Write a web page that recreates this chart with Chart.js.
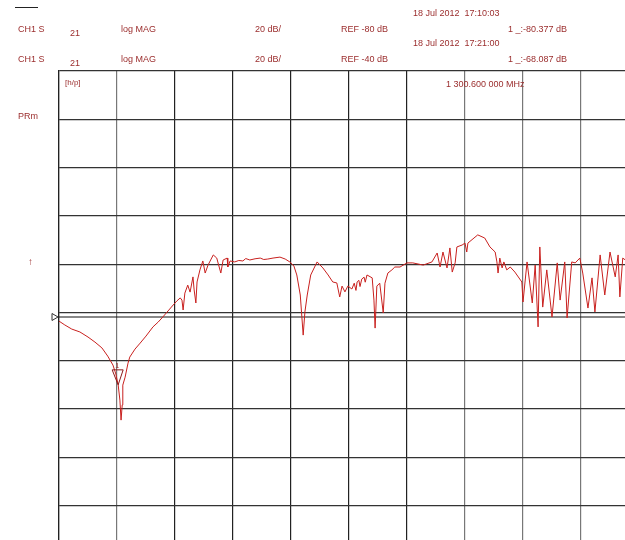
<!DOCTYPE html>
<html>
<head>
<meta charset="utf-8">
<script src="https://cdn.jsdelivr.net/npm/chart.js@4.4.1/dist/chart.umd.min.js"></script>
<style>
  html, body { margin: 0; padding: 0; background: #fff; }
  body { width: 625px; height: 540px; overflow: hidden; position: relative; font-family: "Liberation Sans", Arial, sans-serif; }
  #wrap { position: absolute; left: 0; top: 0; width: 660px; height: 580px; }
  .t { position: absolute; font-size: 9px; color: #9b2d2d; white-space: pre; line-height: 1; }
</style>
</head>
<body>
<div id="wrap"><canvas id="trace" width="660" height="580"></canvas></div>

<div style="position:absolute;left:15px;top:7px;width:23px;height:1px;background:#222"></div>
<div class="t" style="left:18px;top:25px">CH1 S</div>
<div class="t" style="left:70px;top:29px">21</div>
<div class="t" style="left:121px;top:25px">log MAG</div>
<div class="t" style="left:255px;top:25px">20 dB/</div>
<div class="t" style="left:341px;top:25px">REF -80 dB</div>
<div class="t" style="left:413px;top:9px">18 Jul 2012  17:10:03</div>
<div class="t" style="left:508px;top:25px">1 _:-80.377 dB</div>

<div class="t" style="left:18px;top:55px">CH1 S</div>
<div class="t" style="left:70px;top:59px">21</div>
<div class="t" style="left:121px;top:55px">log MAG</div>
<div class="t" style="left:255px;top:55px">20 dB/</div>
<div class="t" style="left:341px;top:55px">REF -40 dB</div>
<div class="t" style="left:413px;top:39px">18 Jul 2012  17:21:00</div>
<div class="t" style="left:508px;top:55px">1 _:-68.087 dB</div>

<div class="t" style="left:65px;top:79px;font-size:8px">[h/p]</div>
<div class="t" style="left:446px;top:80px">1 300.600 000 MHz</div>
<div class="t" style="left:18px;top:112px">PRm</div>
<div class="t" style="left:28px;top:257px;font-size:10px">↑</div>

<script>
// trace S21, x in screen divisions (0..10), y in dB
const freqDiv = [
  0.00, 0.10, 0.22, 0.36, 0.50, 0.62, 0.74, 0.84, 0.93, 0.98,
  1.02, 1.05, 1.07, 1.09, 1.10, 1.14, 1.19, 1.22, 1.31, 1.40,
  1.50, 1.62, 1.71, 1.79, 1.88, 1.97, 2.03, 2.09, 2.12, 2.14,
  2.17, 2.22, 2.26, 2.31, 2.33, 2.36, 2.38, 2.43, 2.48, 2.52,
  2.57, 2.66, 2.72, 2.79, 2.83, 2.90, 2.91, 2.95, 3.03, 3.10,
  3.17, 3.22, 3.29, 3.38, 3.47, 3.53, 3.60, 3.69, 3.81, 3.90,
  3.98, 4.05, 4.10, 4.16, 4.21, 4.24, 4.28, 4.34, 4.45, 4.55,
  4.64, 4.72, 4.79, 4.84, 4.88, 4.93, 4.98, 5.05, 5.09, 5.12,
  5.14, 5.17, 5.19, 5.22, 5.26, 5.28, 5.31, 5.40, 5.43, 5.45,
  5.48, 5.53, 5.59, 5.62, 5.67, 5.74, 5.79, 5.88, 6.00, 6.10,
  6.28, 6.43, 6.52, 6.57, 6.62, 6.69, 6.74, 6.78, 6.83, 6.86,
  6.95, 7.00, 7.03, 7.05, 7.22, 7.34, 7.43, 7.52, 7.55, 7.57,
  7.60, 7.64, 7.67, 7.72, 7.78, 7.86, 7.98, 8.00, 8.07, 8.16,
  8.21, 8.26, 8.29, 8.34, 8.41, 8.50, 8.59, 8.64, 8.72, 8.76,
  8.84, 8.90, 8.98, 9.03, 9.12, 9.19, 9.24, 9.33, 9.41, 9.50,
  9.59, 9.64, 9.67, 9.72, 9.81, 9.91, 10.00
];
const s21 = [
  -41.7, -43.3, -45.0, -46.2, -48.3, -50.4, -52.8, -56.2, -59.9, -63.6,
  -68.1, -74.4, -82.7, -76.4, -68.2, -64.9, -59.1, -56.6, -53.3, -50.8,
  -47.9, -44.1, -42.1, -40.0, -37.5, -35.0, -33.4, -32.1, -33.0, -37.1,
  -30.1, -26.8, -29.7, -23.4, -28.8, -34.2, -25.5, -20.5, -16.8, -21.8,
  -18.5, -14.3, -15.6, -21.8, -16.4, -15.6, -19.3, -16.8, -17.2, -16.6,
  -16.8, -15.8, -16.4, -15.9, -15.6, -16.2, -16.0, -15.6, -15.2, -16.0,
  -17.2, -18.9, -22.6, -30.9, -47.5, -37.9, -30.9, -22.6, -17.2, -19.7,
  -22.6, -25.5, -25.9, -31.7, -27.2, -29.6, -27.2, -28.4, -26.0, -29.0,
  -25.5, -24.8, -27.4, -24.3, -23.5, -25.6, -22.6, -23.8, -33.0, -44.6,
  -27.2, -26.0, -38.3, -26.0, -21.8, -20.5, -19.3, -19.3, -17.6, -17.6,
  -18.5, -17.2, -13.5, -19.3, -13.1, -19.7, -11.4, -21.4, -17.6, -11.0,
  -10.2, -9.4, -13.1, -9.4, -6.0, -7.3, -11.0, -13.1, -17.2, -21.8,
  -15.6, -19.7, -17.2, -20.5, -19.3, -21.4, -25.5, -33.8, -17.2, -34.2,
  -18.5, -44.1, -11.0, -35.9, -20.5, -40.0, -17.6, -33.0, -17.2, -40.4,
  -17.2, -17.6, -15.6, -21.8, -36.3, -23.8, -37.9, -14.3, -30.9, -13.1,
  -23.4, -14.3, -31.7, -15.6, -17.2, -14.3, -16.4
];

const refLevel = -40;       // REF -40 dB
const dbPerDiv = 20;        // 20 dB/
const yTop = 61.86;         // top graticule line
const yBottom = yTop - 10 * dbPerDiv;
const marker = { x: 1.02, y: -68.1 };

const traceData = freqDiv.map((f, i) => ({ x: f, y: s21[i] }));
const refData = [{ x: 0, y: refLevel }, { x: 10, y: refLevel }];

// marker and reference symbols
const symbols = {
  id: "symbols",
  afterDatasetsDraw(chart) {
    const ctx = chart.ctx;
    const xs = chart.scales.x;
    const ys = chart.scales.y;
    ctx.save();
    // reference position triangle on the left
    const ry = ys.getPixelForValue(refLevel);
    const lx = xs.getPixelForValue(0);
    ctx.strokeStyle = "#333";
    ctx.lineWidth = 1;
    ctx.beginPath();
    ctx.moveTo(lx - 7, ry - 3.5);
    ctx.lineTo(lx - 1, ry);
    ctx.lineTo(lx - 7, ry + 3.5);
    ctx.closePath();
    ctx.stroke();
    // marker 1
    const mx = xs.getPixelForValue(marker.x);
    const my = ys.getPixelForValue(marker.y);
    ctx.strokeStyle = "#8b1a1a";
    ctx.beginPath();
    ctx.moveTo(mx - 6, my - 15);
    ctx.lineTo(mx + 5, my - 15);
    ctx.lineTo(mx, my);
    ctx.closePath();
    ctx.stroke();
    ctx.fillStyle = "#9b2d2d";
    ctx.font = "7px 'Liberation Sans', Arial, sans-serif";
    ctx.textAlign = "center";
    ctx.fillText("1", mx - 1, my - 17);
    ctx.restore();
  }
};

const grayCols = [1, 7, 8, 9];

new Chart(document.getElementById("trace"), {
  type: "line",
  data: {
    datasets: [
      {
        label: "S21",
        data: traceData,
        borderColor: "#c8201e",
        borderWidth: 1,
        pointRadius: 0,
        tension: 0,
        order: 1
      },
      {
        label: "ref",
        data: refData,
        borderColor: "#111",
        borderWidth: 1.2,
        pointRadius: 0,
        order: 2
      }
    ]
  },
  options: {
    responsive: false,
    animation: false,
    events: [],
    layout: { padding: { left: 59, top: 71, right: 21, bottom: 26 } },
    plugins: { legend: { display: false }, tooltip: { enabled: false } },
    scales: {
      x: {
        type: "linear",
        min: 0,
        max: 10,
        ticks: { display: false, stepSize: 1 },
        grid: {
          drawTicks: false,
          lineWidth: 1.2,
          color: (c) => (grayCols.includes(c.index) ? "#777" : "#222")
        },
        border: { display: true, color: "#222", width: 1.2 }
      },
      y: {
        type: "linear",
        min: yBottom,
        max: yTop,
        afterBuildTicks: (scale) => {
          const t = [];
          for (let k = 0; k <= 10; k++) t.push({ value: yBottom + k * dbPerDiv });
          scale.ticks = t;
        },
        ticks: { display: false },
        grid: { drawTicks: false, lineWidth: 1.2, color: "#333" },
        border: { display: true, color: "#222", width: 1.2 }
      }
    }
  },
  plugins: [symbols]
});
</script>
</body>
</html>
